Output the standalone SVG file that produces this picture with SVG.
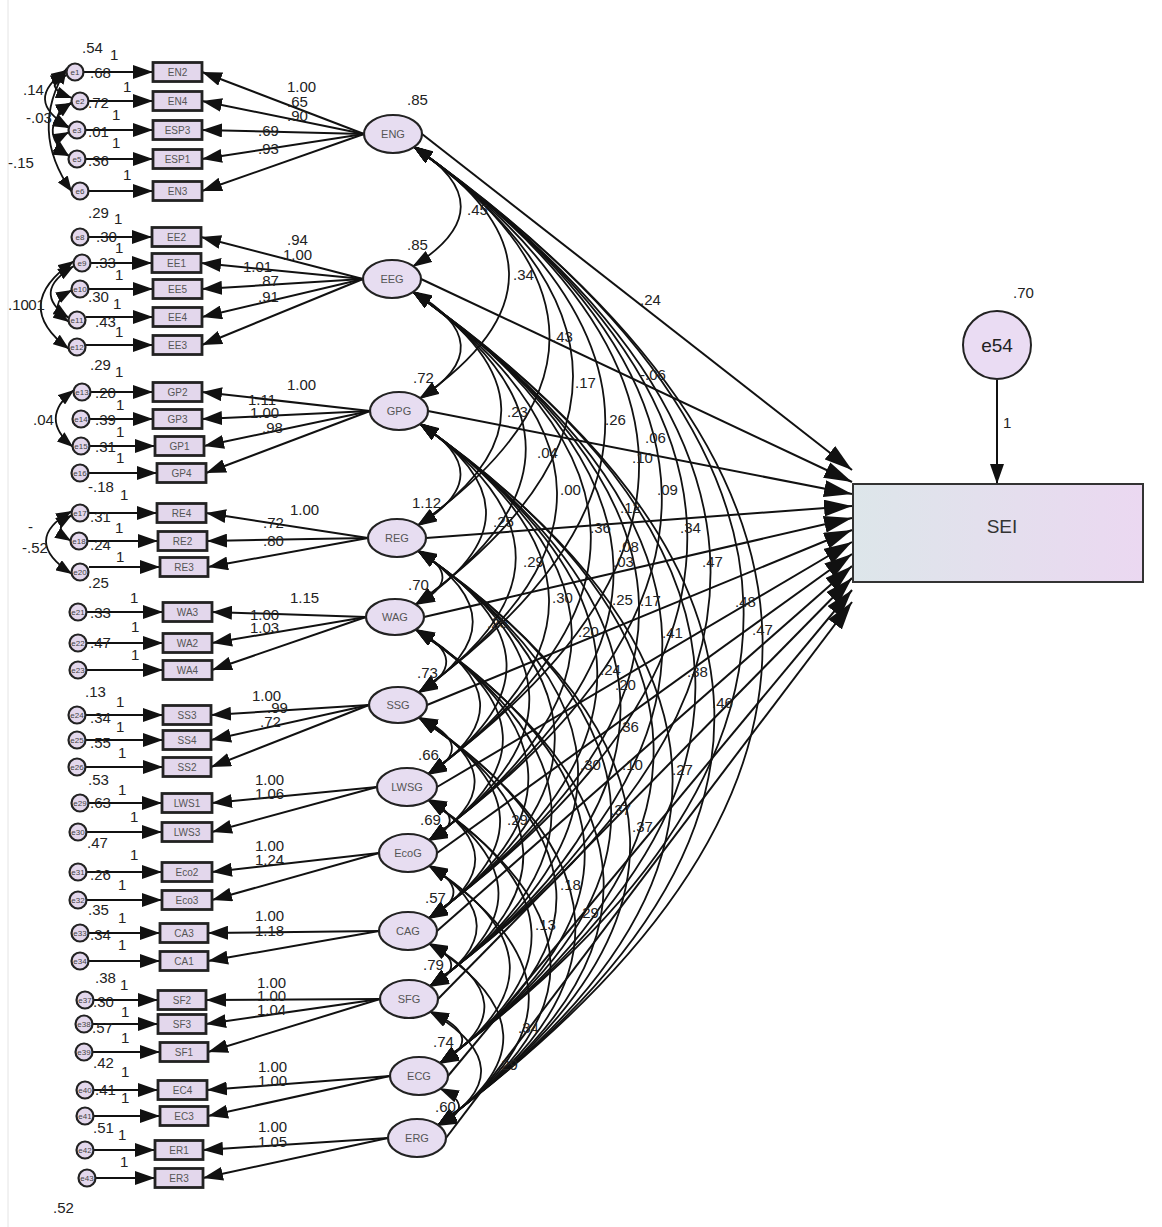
<svg xmlns="http://www.w3.org/2000/svg" width="1162" height="1227" viewBox="0 0 1162 1227">
<style>
.la{stroke:#111;stroke-width:2;fill:none;marker-end:url(#ah)}
.cv{stroke:#111;stroke-width:1.8;fill:none;marker-start:url(#ac);marker-end:url(#ac)}
.ce{stroke:#111;stroke-width:1.8;fill:none;marker-start:url(#ae);marker-end:url(#ae)}
.sa{stroke:#111;stroke-width:2;fill:none;marker-end:url(#as)}
.lv ellipse{fill:#e7ddf1;stroke:#222;stroke-width:2.2}
.ob rect{fill:#e3d7ec;stroke:#222;stroke-width:2.8}
.er circle{fill:#e3d7ec;stroke:#222;stroke-width:2.2}
text{font-family:"Liberation Sans",Arial,sans-serif}
.v{font-size:15px;fill:#222}
.s{font-size:10px;fill:#555;text-anchor:middle}
.l{font-size:11px;fill:#555;text-anchor:middle}
.e{font-size:8px;fill:#444;text-anchor:middle}
</style>
<defs>
<marker id="ah" viewBox="0 0 20 14" refX="20" refY="7" markerWidth="20" markerHeight="14" markerUnits="userSpaceOnUse" orient="auto"><path d="M0,0 L20,7 L0,14 z" fill="#111"/></marker>
<marker id="ac" viewBox="0 0 20 13" refX="20" refY="6.5" markerWidth="20" markerHeight="13" markerUnits="userSpaceOnUse" orient="auto-start-reverse"><path d="M0,0 L20,6.5 L0,13 z" fill="#111"/></marker>
<marker id="ae" viewBox="0 0 16 12" refX="16" refY="6" markerWidth="16" markerHeight="12" markerUnits="userSpaceOnUse" orient="auto-start-reverse"><path d="M0,0 L16,6 L0,12 z" fill="#111"/></marker>
<marker id="as" viewBox="0 0 28 17" refX="28" refY="8.5" markerWidth="28" markerHeight="17" markerUnits="userSpaceOnUse" orient="auto"><path d="M0,0 L28,8.5 L0,17 z" fill="#111"/></marker>
<linearGradient id="gs" x1="0" y1="0" x2="1" y2="0"><stop offset="0" stop-color="#dde6ea"/><stop offset="1" stop-color="#ebd8f1"/></linearGradient>
</defs>
<rect width="1162" height="1227" fill="#fff"/>
<line x1="8" y1="0" x2="8" y2="1227" stroke="#e4e4e4" stroke-width="1"/>

<g id="connectors">
<!-- error to indicator -->
<path class="la" d="M84,72 L153,72"/><path class="la" d="M89,101 L153,101"/><path class="la" d="M86,130 L153,130"/><path class="la" d="M86,159 L153,159"/><path class="la" d="M89,191 L153,191"/>
<path class="la" d="M89,237 L152,237"/><path class="la" d="M91,263 L152,263"/><path class="la" d="M89,289 L153,289"/><path class="la" d="M86,317 L153,317"/><path class="la" d="M86,345 L153,345"/>
<path class="la" d="M91,392 L153,392"/><path class="la" d="M90,419 L153,419"/><path class="la" d="M90,446 L155,446"/><path class="la" d="M89,473 L157,473"/>
<path class="la" d="M89,513 L157,513"/><path class="la" d="M88,541 L158,541"/><path class="la" d="M89,567 L160,567"/>
<path class="la" d="M87,612 L163,612"/><path class="la" d="M87,643 L163,643"/><path class="la" d="M87,670 L163,670"/>
<path class="la" d="M86,715 L163,715"/><path class="la" d="M86,740 L163,740"/><path class="la" d="M86,767 L163,767"/>
<path class="la" d="M89,803 L162,803"/><path class="la" d="M87,832 L162,832"/>
<path class="la" d="M87,872 L162,872"/><path class="la" d="M87,900 L162,900"/>
<path class="la" d="M89,933 L160,933"/><path class="la" d="M89,961 L160,961"/>
<path class="la" d="M94,1000 L158,1000"/><path class="la" d="M93,1024 L158,1024"/><path class="la" d="M93,1052 L160,1052"/>
<path class="la" d="M94,1090 L158,1090"/><path class="la" d="M94,1116 L160,1116"/>
<path class="la" d="M94,1150 L155,1150"/><path class="la" d="M96,1178 L155,1178"/>
<!-- loadings -->
<path class="la" d="M364,134 L202,72"/><path class="la" d="M364,134 L202,101"/><path class="la" d="M364,134 L202,130"/><path class="la" d="M364,134 L202,159"/><path class="la" d="M364,134 L202,191"/>
<path class="la" d="M363,279 L201,237"/><path class="la" d="M363,279 L201,263"/><path class="la" d="M363,279 L202,289"/><path class="la" d="M363,279 L202,317"/><path class="la" d="M363,279 L202,345"/>
<path class="la" d="M370,411 L202,392"/><path class="la" d="M370,411 L202,419"/><path class="la" d="M370,411 L204,446"/><path class="la" d="M370,411 L206,473"/>
<path class="la" d="M368,538 L206,513"/><path class="la" d="M368,538 L207,541"/><path class="la" d="M368,538 L208,567"/>
<path class="la" d="M366,617 L212,612"/><path class="la" d="M366,617 L212,643"/><path class="la" d="M366,617 L212,670"/>
<path class="la" d="M369,705 L211,715"/><path class="la" d="M369,705 L211,740"/><path class="la" d="M369,705 L211,767"/>
<path class="la" d="M377,787 L212,803"/><path class="la" d="M377,787 L212,832"/>
<path class="la" d="M379,853 L212,872"/><path class="la" d="M379,853 L212,900"/>
<path class="la" d="M379,931 L208,933"/><path class="la" d="M379,931 L208,961"/>
<path class="la" d="M380,999 L206,1000"/><path class="la" d="M380,999 L206,1024"/><path class="la" d="M380,999 L208,1052"/>
<path class="la" d="M390,1076 L207,1090"/><path class="la" d="M390,1076 L208,1116"/>
<path class="la" d="M388,1138 L203,1150"/><path class="la" d="M388,1138 L203,1178"/>
<!-- error covariances -->
<path class="ce" d="M67,75 Q40,86 72,98"/>
<path class="ce" d="M67,70 Q22,100 69,127"/>
<path class="ce" d="M72,103 Q45,116 69,128"/>
<path class="ce" d="M72,102 Q35,130 69,156"/>
<path class="ce" d="M69,132 Q45,145 69,156"/>
<path class="ce" d="M67,68 Q28,130 72,192"/>
<path class="ce" d="M74,261 Q10,305 69,349"/>
<path class="ce" d="M72,290 Q45,305 69,322"/>
<path class="ce" d="M74,266 Q30,292 69,318"/>
<path class="ce" d="M74,390 Q38,418 73,447"/>
<path class="ce" d="M72,511 Q20,540 72,574"/>
<path class="ce" d="M72,515 Q50,528 71,541"/>
<!-- latent covariances -->
<path class="cv" d="M413,146 Q509,207 412,267"/>
<path class="cv" d="M413,146 Q602,273 419,399"/>
<path class="cv" d="M413,146 Q684,336 417,526"/>
<path class="cv" d="M413,146 Q732,376 415,605"/>
<path class="cv" d="M413,146 Q795,420 418,693"/>
<path class="cv" d="M413,146 Q858,461 427,775"/>
<path class="cv" d="M413,146 Q903,494 428,841"/>
<path class="cv" d="M413,146 Q954,533 428,919"/>
<path class="cv" d="M413,146 Q1000,567 429,987"/>
<path class="cv" d="M413,146 Q1061,605 439,1064"/>
<path class="cv" d="M413,146 Q1100,636 437,1126"/>
<path class="cv" d="M412,291 Q506,345 419,399"/>
<path class="cv" d="M412,291 Q588,409 417,526"/>
<path class="cv" d="M412,291 Q638,448 415,605"/>
<path class="cv" d="M412,291 Q699,492 418,693"/>
<path class="cv" d="M412,291 Q762,533 427,775"/>
<path class="cv" d="M412,291 Q807,566 428,841"/>
<path class="cv" d="M412,291 Q858,605 428,919"/>
<path class="cv" d="M412,291 Q904,639 429,987"/>
<path class="cv" d="M412,291 Q965,678 439,1064"/>
<path class="cv" d="M412,291 Q1004,709 437,1126"/>
<path class="cv" d="M419,423 Q503,475 417,526"/>
<path class="cv" d="M419,423 Q555,514 415,605"/>
<path class="cv" d="M419,423 Q613,558 418,693"/>
<path class="cv" d="M419,423 Q675,599 427,775"/>
<path class="cv" d="M419,423 Q720,632 428,841"/>
<path class="cv" d="M419,423 Q771,671 428,919"/>
<path class="cv" d="M419,423 Q817,705 429,987"/>
<path class="cv" d="M419,423 Q878,744 439,1064"/>
<path class="cv" d="M419,423 Q917,775 437,1126"/>
<path class="cv" d="M417,550 Q469,578 415,605"/>
<path class="cv" d="M417,550 Q528,622 418,693"/>
<path class="cv" d="M417,550 Q591,663 427,775"/>
<path class="cv" d="M417,550 Q636,696 428,841"/>
<path class="cv" d="M417,550 Q687,735 428,919"/>
<path class="cv" d="M417,550 Q733,769 429,987"/>
<path class="cv" d="M417,550 Q794,807 439,1064"/>
<path class="cv" d="M417,550 Q833,838 437,1126"/>
<path class="cv" d="M415,629 Q476,661 418,693"/>
<path class="cv" d="M415,629 Q539,702 427,775"/>
<path class="cv" d="M415,629 Q584,735 428,841"/>
<path class="cv" d="M415,629 Q635,774 428,919"/>
<path class="cv" d="M415,629 Q681,808 429,987"/>
<path class="cv" d="M415,629 Q742,847 439,1064"/>
<path class="cv" d="M415,629 Q781,878 437,1126"/>
<path class="cv" d="M418,717 Q481,746 427,775"/>
<path class="cv" d="M418,717 Q526,779 428,841"/>
<path class="cv" d="M418,717 Q577,818 428,919"/>
<path class="cv" d="M418,717 Q623,852 429,987"/>
<path class="cv" d="M418,717 Q684,891 439,1064"/>
<path class="cv" d="M418,717 Q723,922 437,1126"/>
<path class="cv" d="M427,799 Q472,820 428,841"/>
<path class="cv" d="M427,799 Q523,859 428,919"/>
<path class="cv" d="M427,799 Q569,893 429,987"/>
<path class="cv" d="M427,799 Q630,932 439,1064"/>
<path class="cv" d="M427,799 Q669,963 437,1126"/>
<path class="cv" d="M428,865 Q479,892 428,919"/>
<path class="cv" d="M428,865 Q525,926 429,987"/>
<path class="cv" d="M428,865 Q586,965 439,1064"/>
<path class="cv" d="M428,865 Q625,996 437,1126"/>
<path class="cv" d="M428,943 Q474,965 429,987"/>
<path class="cv" d="M428,943 Q535,1004 439,1064"/>
<path class="cv" d="M428,943 Q574,1035 437,1126"/>
<path class="cv" d="M429,1011 Q490,1038 439,1064"/>
<path class="cv" d="M429,1011 Q529,1069 437,1126"/>
<path class="cv" d="M439,1088 Q480,1107 437,1126"/>
<!-- structural paths to SEI -->
<path class="sa" d="M422,134 L852,470"/>
<path class="sa" d="M421,279 L852,482"/>
<path class="sa" d="M428,411 L852,494"/>
<path class="sa" d="M426,538 L852,506"/>
<path class="sa" d="M424,617 L852,518"/>
<path class="sa" d="M427,705 L852,530"/>
<path class="sa" d="M437,787 L852,542"/>
<path class="sa" d="M437,853 L852,554"/>
<path class="sa" d="M437,931 L852,566"/>
<path class="sa" d="M438,999 L852,578"/>
<path class="sa" d="M448,1076 L852,590"/>
<path class="sa" d="M446,1138 L852,602"/>
<path class="la" d="M997,380 L997,484"/>
</g>

<!-- error terms -->
<g class="er">
<g id="e1"><circle cx="75" cy="72" r="8.5"/><text class="e" x="75" y="75">e1</text></g>
<g id="e2"><circle cx="80" cy="101" r="8.5"/><text class="e" x="80" y="104">e2</text></g>
<g id="e3"><circle cx="77" cy="130" r="8.5"/><text class="e" x="77" y="133">e3</text></g>
<g id="e5"><circle cx="77" cy="159" r="8.5"/><text class="e" x="77" y="162">e5</text></g>
<g id="e6"><circle cx="80" cy="191" r="8.5"/><text class="e" x="80" y="194">e6</text></g>
<g id="e8"><circle cx="80" cy="237" r="8.5"/><text class="e" x="80" y="240">e8</text></g>
<g id="e9"><circle cx="82" cy="263" r="8.5"/><text class="e" x="82" y="266">e9</text></g>
<g id="e10"><circle cx="80" cy="289" r="8.5"/><text class="e" x="80" y="292">e10</text></g>
<g id="e11"><circle cx="77" cy="320" r="8.5"/><text class="e" x="77" y="323">e11</text></g>
<g id="e12"><circle cx="77" cy="347" r="8.5"/><text class="e" x="77" y="350">e12</text></g>
<g id="e13"><circle cx="82" cy="392" r="8.5"/><text class="e" x="82" y="395">e13</text></g>
<g id="e14"><circle cx="81" cy="419" r="8.5"/><text class="e" x="81" y="422">e14</text></g>
<g id="e15"><circle cx="81" cy="446" r="8.5"/><text class="e" x="81" y="449">e15</text></g>
<g id="e16"><circle cx="80" cy="473" r="8.5"/><text class="e" x="80" y="476">e16</text></g>
<g id="e17"><circle cx="80" cy="513" r="8.5"/><text class="e" x="80" y="516">e17</text></g>
<g id="e18"><circle cx="79" cy="541" r="8.5"/><text class="e" x="79" y="544">e18</text></g>
<g id="e20"><circle cx="80" cy="572" r="8.5"/><text class="e" x="80" y="575">e20</text></g>
<g id="e21"><circle cx="78" cy="612" r="8.5"/><text class="e" x="78" y="615">e21</text></g>
<g id="e22"><circle cx="78" cy="643" r="8.5"/><text class="e" x="78" y="646">e22</text></g>
<g id="e23"><circle cx="78" cy="670" r="8.5"/><text class="e" x="78" y="673">e23</text></g>
<g id="e24"><circle cx="77" cy="715" r="8.5"/><text class="e" x="77" y="718">e24</text></g>
<g id="e25"><circle cx="77" cy="740" r="8.5"/><text class="e" x="77" y="743">e25</text></g>
<g id="e26"><circle cx="77" cy="767" r="8.5"/><text class="e" x="77" y="770">e26</text></g>
<g id="e29"><circle cx="80" cy="803" r="8.5"/><text class="e" x="80" y="806">e29</text></g>
<g id="e30"><circle cx="78" cy="832" r="8.5"/><text class="e" x="78" y="835">e30</text></g>
<g id="e31"><circle cx="78" cy="872" r="8.5"/><text class="e" x="78" y="875">e31</text></g>
<g id="e32"><circle cx="78" cy="900" r="8.5"/><text class="e" x="78" y="903">e32</text></g>
<g id="e33"><circle cx="80" cy="933" r="8.5"/><text class="e" x="80" y="936">e33</text></g>
<g id="e34"><circle cx="80" cy="961" r="8.5"/><text class="e" x="80" y="964">e34</text></g>
<g id="e37"><circle cx="85" cy="1000" r="8.5"/><text class="e" x="85" y="1003">e37</text></g>
<g id="e38"><circle cx="84" cy="1024" r="8.5"/><text class="e" x="84" y="1027">e38</text></g>
<g id="e39"><circle cx="84" cy="1052" r="8.5"/><text class="e" x="84" y="1055">e39</text></g>
<g id="e40"><circle cx="85" cy="1090" r="8.5"/><text class="e" x="85" y="1093">e40</text></g>
<g id="e41"><circle cx="85" cy="1116" r="8.5"/><text class="e" x="85" y="1119">e41</text></g>
<g id="e42"><circle cx="85" cy="1150" r="8.5"/><text class="e" x="85" y="1153">e42</text></g>
<g id="e43"><circle cx="87" cy="1178" r="8.5"/><text class="e" x="87" y="1181">e43</text></g>
</g>

<!-- observed indicators -->
<g class="ob">
<g id="EN2"><rect x="153" y="62.5" width="49" height="19"/><text class="s" x="177.5" y="75.5">EN2</text></g>
<g id="EN4"><rect x="153" y="91.5" width="49" height="19"/><text class="s" x="177.5" y="104.5">EN4</text></g>
<g id="ESP3"><rect x="153" y="120.5" width="49" height="19"/><text class="s" x="177.5" y="133.5">ESP3</text></g>
<g id="ESP1"><rect x="153" y="149.5" width="49" height="19"/><text class="s" x="177.5" y="162.5">ESP1</text></g>
<g id="EN3"><rect x="153" y="181.5" width="49" height="19"/><text class="s" x="177.5" y="194.5">EN3</text></g>
<g id="EE2"><rect x="152" y="227.5" width="49" height="19"/><text class="s" x="176.5" y="240.5">EE2</text></g>
<g id="EE1"><rect x="152" y="253.5" width="49" height="19"/><text class="s" x="176.5" y="266.5">EE1</text></g>
<g id="EE5"><rect x="153" y="279.5" width="49" height="19"/><text class="s" x="177.5" y="292.5">EE5</text></g>
<g id="EE4"><rect x="153" y="307.5" width="49" height="19"/><text class="s" x="177.5" y="320.5">EE4</text></g>
<g id="EE3"><rect x="153" y="335.5" width="49" height="19"/><text class="s" x="177.5" y="348.5">EE3</text></g>
<g id="GP2"><rect x="153" y="382.5" width="49" height="19"/><text class="s" x="177.5" y="395.5">GP2</text></g>
<g id="GP3"><rect x="153" y="409.5" width="49" height="19"/><text class="s" x="177.5" y="422.5">GP3</text></g>
<g id="GP1"><rect x="155" y="436.5" width="49" height="19"/><text class="s" x="179.5" y="449.5">GP1</text></g>
<g id="GP4"><rect x="157" y="463.5" width="49" height="19"/><text class="s" x="181.5" y="476.5">GP4</text></g>
<g id="RE4"><rect x="157" y="503.5" width="49" height="19"/><text class="s" x="181.5" y="516.5">RE4</text></g>
<g id="RE2"><rect x="158" y="531.5" width="49" height="19"/><text class="s" x="182.5" y="544.5">RE2</text></g>
<g id="RE3"><rect x="160" y="557.5" width="48" height="19"/><text class="s" x="184" y="570.5">RE3</text></g>
<g id="WA3"><rect x="163" y="602.5" width="49" height="19"/><text class="s" x="187.5" y="615.5">WA3</text></g>
<g id="WA2"><rect x="163" y="633.5" width="49" height="19"/><text class="s" x="187.5" y="646.5">WA2</text></g>
<g id="WA4"><rect x="163" y="660.5" width="49" height="19"/><text class="s" x="187.5" y="673.5">WA4</text></g>
<g id="SS3"><rect x="163" y="705.5" width="48" height="19"/><text class="s" x="187" y="718.5">SS3</text></g>
<g id="SS4"><rect x="163" y="730.5" width="48" height="19"/><text class="s" x="187" y="743.5">SS4</text></g>
<g id="SS2"><rect x="163" y="757.5" width="48" height="19"/><text class="s" x="187" y="770.5">SS2</text></g>
<g id="LWS1"><rect x="162" y="793.5" width="50" height="19"/><text class="s" x="187" y="806.5">LWS1</text></g>
<g id="LWS3"><rect x="162" y="822.5" width="50" height="19"/><text class="s" x="187" y="835.5">LWS3</text></g>
<g id="Eco2"><rect x="162" y="862.5" width="50" height="19"/><text class="s" x="187" y="875.5">Eco2</text></g>
<g id="Eco3"><rect x="162" y="890.5" width="50" height="19"/><text class="s" x="187" y="903.5">Eco3</text></g>
<g id="CA3"><rect x="160" y="923.5" width="48" height="19"/><text class="s" x="184" y="936.5">CA3</text></g>
<g id="CA1"><rect x="160" y="951.5" width="48" height="19"/><text class="s" x="184" y="964.5">CA1</text></g>
<g id="SF2"><rect x="158" y="990.5" width="48" height="19"/><text class="s" x="182" y="1003.5">SF2</text></g>
<g id="SF3"><rect x="158" y="1014.5" width="48" height="19"/><text class="s" x="182" y="1027.5">SF3</text></g>
<g id="SF1"><rect x="160" y="1042.5" width="48" height="19"/><text class="s" x="184" y="1055.5">SF1</text></g>
<g id="EC4"><rect x="158" y="1080.5" width="49" height="19"/><text class="s" x="182.5" y="1093.5">EC4</text></g>
<g id="EC3"><rect x="160" y="1106.5" width="48" height="19"/><text class="s" x="184" y="1119.5">EC3</text></g>
<g id="ER1"><rect x="155" y="1140.5" width="48" height="19"/><text class="s" x="179" y="1153.5">ER1</text></g>
<g id="ER3"><rect x="155" y="1168.5" width="48" height="19"/><text class="s" x="179" y="1181.5">ER3</text></g>
</g>

<!-- latent variables -->
<g class="lv">
<g id="ENG"><ellipse cx="393" cy="134" rx="29" ry="19"/><text class="l" x="393" y="138">ENG</text></g>
<g id="EEG"><ellipse cx="392" cy="279" rx="29" ry="19"/><text class="l" x="392" y="283">EEG</text></g>
<g id="GPG"><ellipse cx="399" cy="411" rx="29" ry="19"/><text class="l" x="399" y="415">GPG</text></g>
<g id="REG"><ellipse cx="397" cy="538" rx="29" ry="19"/><text class="l" x="397" y="542">REG</text></g>
<g id="WAG"><ellipse cx="395" cy="617" rx="29" ry="18"/><text class="l" x="395" y="621">WAG</text></g>
<g id="SSG"><ellipse cx="398" cy="705" rx="29" ry="18"/><text class="l" x="398" y="709">SSG</text></g>
<g id="LWSG"><ellipse cx="407" cy="787" rx="30" ry="19"/><text class="l" x="407" y="791">LWSG</text></g>
<g id="EcoG"><ellipse cx="408" cy="853" rx="29" ry="19"/><text class="l" x="408" y="857">EcoG</text></g>
<g id="CAG"><ellipse cx="408" cy="931" rx="29" ry="19"/><text class="l" x="408" y="935">CAG</text></g>
<g id="SFG"><ellipse cx="409" cy="999" rx="29" ry="19"/><text class="l" x="409" y="1003">SFG</text></g>
<g id="ECG"><ellipse cx="419" cy="1076" rx="29" ry="19"/><text class="l" x="419" y="1080">ECG</text></g>
<g id="ERG"><ellipse cx="417" cy="1138" rx="29" ry="19"/><text class="l" x="417" y="1142">ERG</text></g>
</g>

<g id="e54"><circle cx="997" cy="345" r="34" fill="#eadcf3" stroke="#222" stroke-width="2"/><text x="997" y="352" font-size="19" fill="#222" text-anchor="middle">e54</text></g>
<g id="SEI"><rect x="853" y="484" width="290" height="98" fill="url(#gs)" stroke="#333" stroke-width="2"/><text x="1002" y="533" font-size="19" fill="#333" text-anchor="middle">SEI</text></g>

<g id="labels" class="v">
<!-- error variances and fixed 1s -->
<text x="82" y="53">.54</text><text x="110" y="60">1</text>
<text x="90" y="78">.68</text><text x="123" y="92">1</text>
<text x="23" y="95">.14</text>
<text x="88" y="108">.72</text><text x="112" y="120">1</text>
<text x="26" y="123">-.03</text>
<text x="88" y="137">.01</text><text x="112" y="148">1</text>
<text x="88" y="166">.36</text><text x="123" y="180">1</text>
<text x="8" y="168">-.15</text>
<text x="88" y="218">.29</text><text x="114" y="224">1</text>
<text x="96" y="242">.30</text><text x="115" y="253">1</text>
<text x="95" y="268">.33</text><text x="115" y="280">1</text>
<text x="88" y="302">.30</text><text x="113" y="309">1</text>
<text x="8" y="310">.10</text><text x="24" y="310">.01</text>
<text x="95" y="327">.43</text><text x="115" y="337">1</text>
<text x="90" y="370">.29</text><text x="115" y="377">1</text>
<text x="95" y="398">.20</text><text x="116" y="410">1</text>
<text x="95" y="425">.39</text><text x="116" y="437">1</text>
<text x="33" y="425">.04</text>
<text x="95" y="452">.31</text><text x="116" y="463">1</text>
<text x="88" y="492">-.18</text><text x="120" y="500">1</text>
<text x="90" y="522">.31</text><text x="115" y="533">1</text>
<text x="28" y="532">-</text>
<text x="90" y="550">.24</text><text x="116" y="562">1</text>
<text x="22" y="553">-.52</text>
<text x="88" y="588">.25</text><text x="130" y="603">1</text>
<text x="90" y="618">.33</text><text x="131" y="632">1</text>
<text x="90" y="648">.47</text><text x="131" y="660">1</text>
<text x="85" y="697">.13</text><text x="116" y="707">1</text>
<text x="90" y="723">.34</text><text x="116" y="732">1</text>
<text x="90" y="748">.55</text><text x="118" y="758">1</text>
<text x="88" y="785">.53</text><text x="118" y="795">1</text>
<text x="90" y="808">.63</text><text x="130" y="822">1</text>
<text x="87" y="848">.47</text><text x="130" y="860">1</text>
<text x="90" y="880">.26</text><text x="118" y="890">1</text>
<text x="88" y="915">.35</text><text x="118" y="923">1</text>
<text x="90" y="940">.34</text><text x="118" y="950">1</text>
<text x="95" y="983">.38</text><text x="120" y="990">1</text>
<text x="93" y="1007">.30</text><text x="121" y="1017">1</text>
<text x="92" y="1033">.57</text><text x="121" y="1043">1</text>
<text x="93" y="1068">.42</text><text x="121" y="1077">1</text>
<text x="95" y="1095">.41</text><text x="121" y="1103">1</text>
<text x="93" y="1133">.51</text><text x="118" y="1140">1</text>
<text x="120" y="1167">1</text>
<text x="53" y="1213">.52</text>
<!-- loadings -->
<text x="287" y="92">1.00</text><text x="287" y="107">.65</text><text x="287" y="121">.90</text>
<text x="258" y="136">.69</text><text x="258" y="154">.93</text>
<text x="287" y="245">.94</text><text x="283" y="260">1.00</text>
<text x="243" y="272">1.01</text><text x="258" y="286">.87</text><text x="258" y="302">.91</text>
<text x="287" y="390">1.00</text><text x="248" y="405">1.11</text><text x="250" y="418">1.00</text><text x="262" y="433">.98</text>
<text x="290" y="515">1.00</text><text x="263" y="528">.72</text><text x="263" y="546">.80</text>
<text x="290" y="603">1.15</text><text x="250" y="620">1.00</text><text x="250" y="633">1.03</text>
<text x="252" y="701">1.00</text><text x="267" y="713">.99</text><text x="260" y="727">.72</text>
<text x="255" y="785">1.00</text><text x="255" y="799">1.06</text>
<text x="255" y="851">1.00</text><text x="255" y="865">1.24</text>
<text x="255" y="921">1.00</text><text x="255" y="936">1.18</text>
<text x="257" y="988">1.00</text><text x="257" y="1001">1.00</text><text x="257" y="1015">1.04</text>
<text x="258" y="1072">1.00</text><text x="258" y="1086">1.00</text>
<text x="258" y="1132">1.00</text><text x="258" y="1147">1.05</text>
<!-- latent variances -->
<text x="407" y="105">.85</text><text x="407" y="250">.85</text><text x="413" y="383">.72</text>
<text x="412" y="508">1.12</text><text x="408" y="590">.70</text><text x="417" y="678">.73</text>
<text x="418" y="760">.66</text><text x="420" y="825">.69</text><text x="425" y="903">.57</text>
<text x="423" y="970">.79</text><text x="433" y="1047">.74</text><text x="435" y="1112">.60</text>
<!-- covariances -->
<text x="467" y="215">.45</text><text x="513" y="280">.34</text><text x="552" y="342">.43</text>
<text x="640" y="305">.24</text><text x="575" y="388">.17</text><text x="640" y="380">-.06</text>
<text x="507" y="417">.23</text><text x="605" y="425">.26</text><text x="645" y="443">.06</text>
<text x="537" y="458">.04</text><text x="632" y="463">.10</text><text x="657" y="495">.09</text>
<text x="560" y="495">.00</text><text x="620" y="513">.12</text><text x="493" y="527">.25</text>
<text x="590" y="533">.36</text><text x="680" y="533">.34</text><text x="618" y="552">.08</text>
<text x="613" y="567">.03</text><text x="702" y="567">.47</text><text x="523" y="567">.29</text>
<text x="552" y="603">.30</text><text x="612" y="605">.25</text><text x="640" y="606">.17</text>
<text x="735" y="607">.48</text><text x="487" y="628">.25</text><text x="578" y="637">.20</text>
<text x="662" y="638">.41</text><text x="752" y="635">.47</text><text x="600" y="675">.24</text>
<text x="687" y="677">.38</text><text x="615" y="690">.20</text><text x="712" y="708">.46</text>
<text x="618" y="732">.36</text><text x="580" y="770">.30</text><text x="622" y="770">.10</text>
<text x="672" y="775">.27</text><text x="610" y="815">.37</text><text x="632" y="832">.37</text>
<text x="507" y="825">.29</text><text x="560" y="890">.18</text><text x="578" y="918">.29</text>
<text x="535" y="930">.13</text><text x="518" y="1033">.34</text><text x="497" y="1070">.29</text>
<!-- SEI side -->
<text x="1013" y="298">.70</text><text x="1003" y="428">1</text>
</g>
</svg>
